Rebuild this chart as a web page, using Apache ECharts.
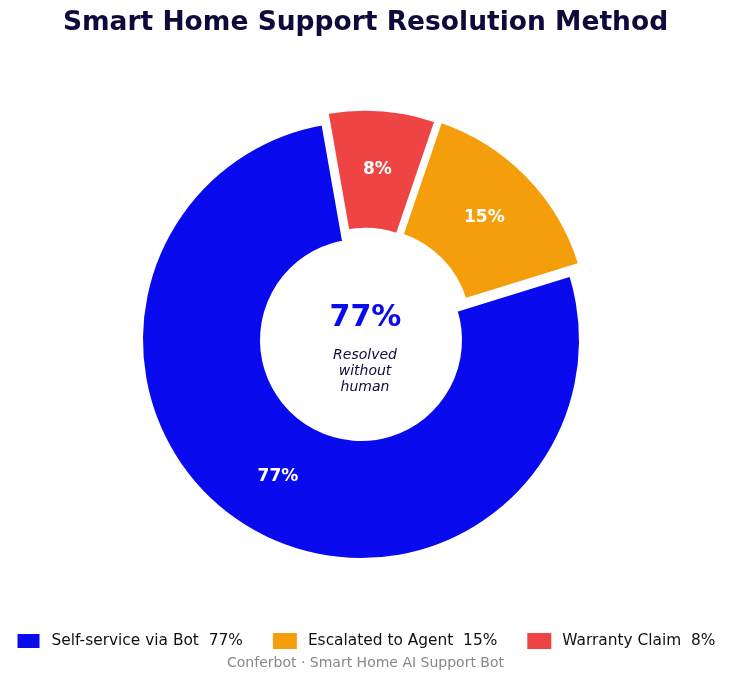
<!DOCTYPE html>
<html>
<head>
<meta charset="utf-8">
<script src="https://cdn.jsdelivr.net/npm/echarts@6/dist/echarts.min.js"></script>
<style>
    html, body {margin: 0; padding: 0; background: #fff;}
    #chart {width: 731px; height: 681px;}
</style>
</head>
<body>
<div id="chart"></div>
<script>
// 数据
let categories = ['Self-service via Bot', 'Escalated to Agent', 'Warranty Claim'];
let values = [77, 15, 8];
let colors = ['#0a0aef', '#f59e0b', '#ef4444'];

let font = 'DejaVu Sans';
let navy = '#0f0a3c';
let startAngle = 100;
// 每个扇区的中心偏移(px)，0:不偏移
let shiftX = [0, 9, 4.2];
let shiftY = [0, -11, -11.2];

let myChart = echarts.init(document.getElementById('chart'));

// 标签往圆心方向收一点
let total = values.reduce(function (a, b) { return a + b; }, 0);
let labelOffsets = [];
let acc = 0;
for (let i = 0; i < values.length; i++) {
    let mid = (startAngle + (acc + values[i] / 2) / total * 360) * Math.PI / 180;
    labelOffsets.push([-3 * Math.cos(mid), 3 * Math.sin(mid)]);
    acc += values[i];
}

// 每个扇区一个pie系列，其他扇区透明，这样可以单独设置偏移
let seriesList = [];
for (let k = 0; k < categories.length; k++) {
    let data = [];
    for (let i = 0; i < categories.length; i++) {
        let shown = i === k;
        data.push({
            name: categories[i],
            value: values[i],
            itemStyle: shown
                ? {color: colors[i], borderColor: '#fff', borderWidth: 3}
                : {color: 'transparent', borderWidth: 0},
            label: {show: shown, offset: labelOffsets[i]}
        });
    }
    seriesList.push({
        type: 'pie',
        center: [361 + shiftX[k], 340 + shiftY[k]],
        radius: [99.5, 219.5],
        startAngle: startAngle,
        clockwise: false,
        silent: true,
        emphasis: {disabled: true},
        label: {
            position: 'inside',
            formatter: '{c}%',
            fontFamily: font,
            fontSize: 17,
            fontWeight: 'bold',
            color: '#fff'
        },
        labelLine: {show: false},
        data: data
    });
}

let legendData = [];
for (let i = 0; i < categories.length; i++) {
    legendData.push({name: categories[i], itemStyle: {color: colors[i]}});
}

let option = {
    animation: false,
    title: {
        text: 'Smart Home Support Resolution Method',
        left: 'center',
        top: 5,
        textStyle: {fontFamily: font, fontSize: 26.5, fontWeight: 'bold', color: navy}
    },
    legend: {
        data: legendData,
        left: 'center',
        top: 627,
        itemWidth: 24,
        itemHeight: 16,
        itemGap: 30,
        icon: 'rect',
        selectedMode: false,
        formatter: function (name) {
            return name + '  ' + values[categories.indexOf(name)] + '%';
        },
        textStyle: {fontFamily: font, fontSize: 15.4, color: '#111', padding: [0, 0, 0, 6]}
    },
    graphic: [
        {
            type: 'text', x: 365.5, y: 318,
            style: {text: values[0] + '%', font: 'bold 30px "DejaVu Sans"', fill: colors[0], align: 'center', verticalAlign: 'middle'}
        },
        {
            type: 'text', x: 365, y: 347,
            style: {
                text: 'Resolved\nwithout\nhuman', font: 'italic 14px "DejaVu Sans"',
                fill: navy, align: 'center', lineHeight: 16
            }
        },
        {
            type: 'text', x: 365.5, y: 663,
            style: {text: 'Conferbot · Smart Home AI Support Bot', font: '14px "DejaVu Sans"', fill: '#888', align: 'center', verticalAlign: 'middle'}
        }
    ],
    series: seriesList
};
myChart.setOption(option);
</script>
</body>
</html>
